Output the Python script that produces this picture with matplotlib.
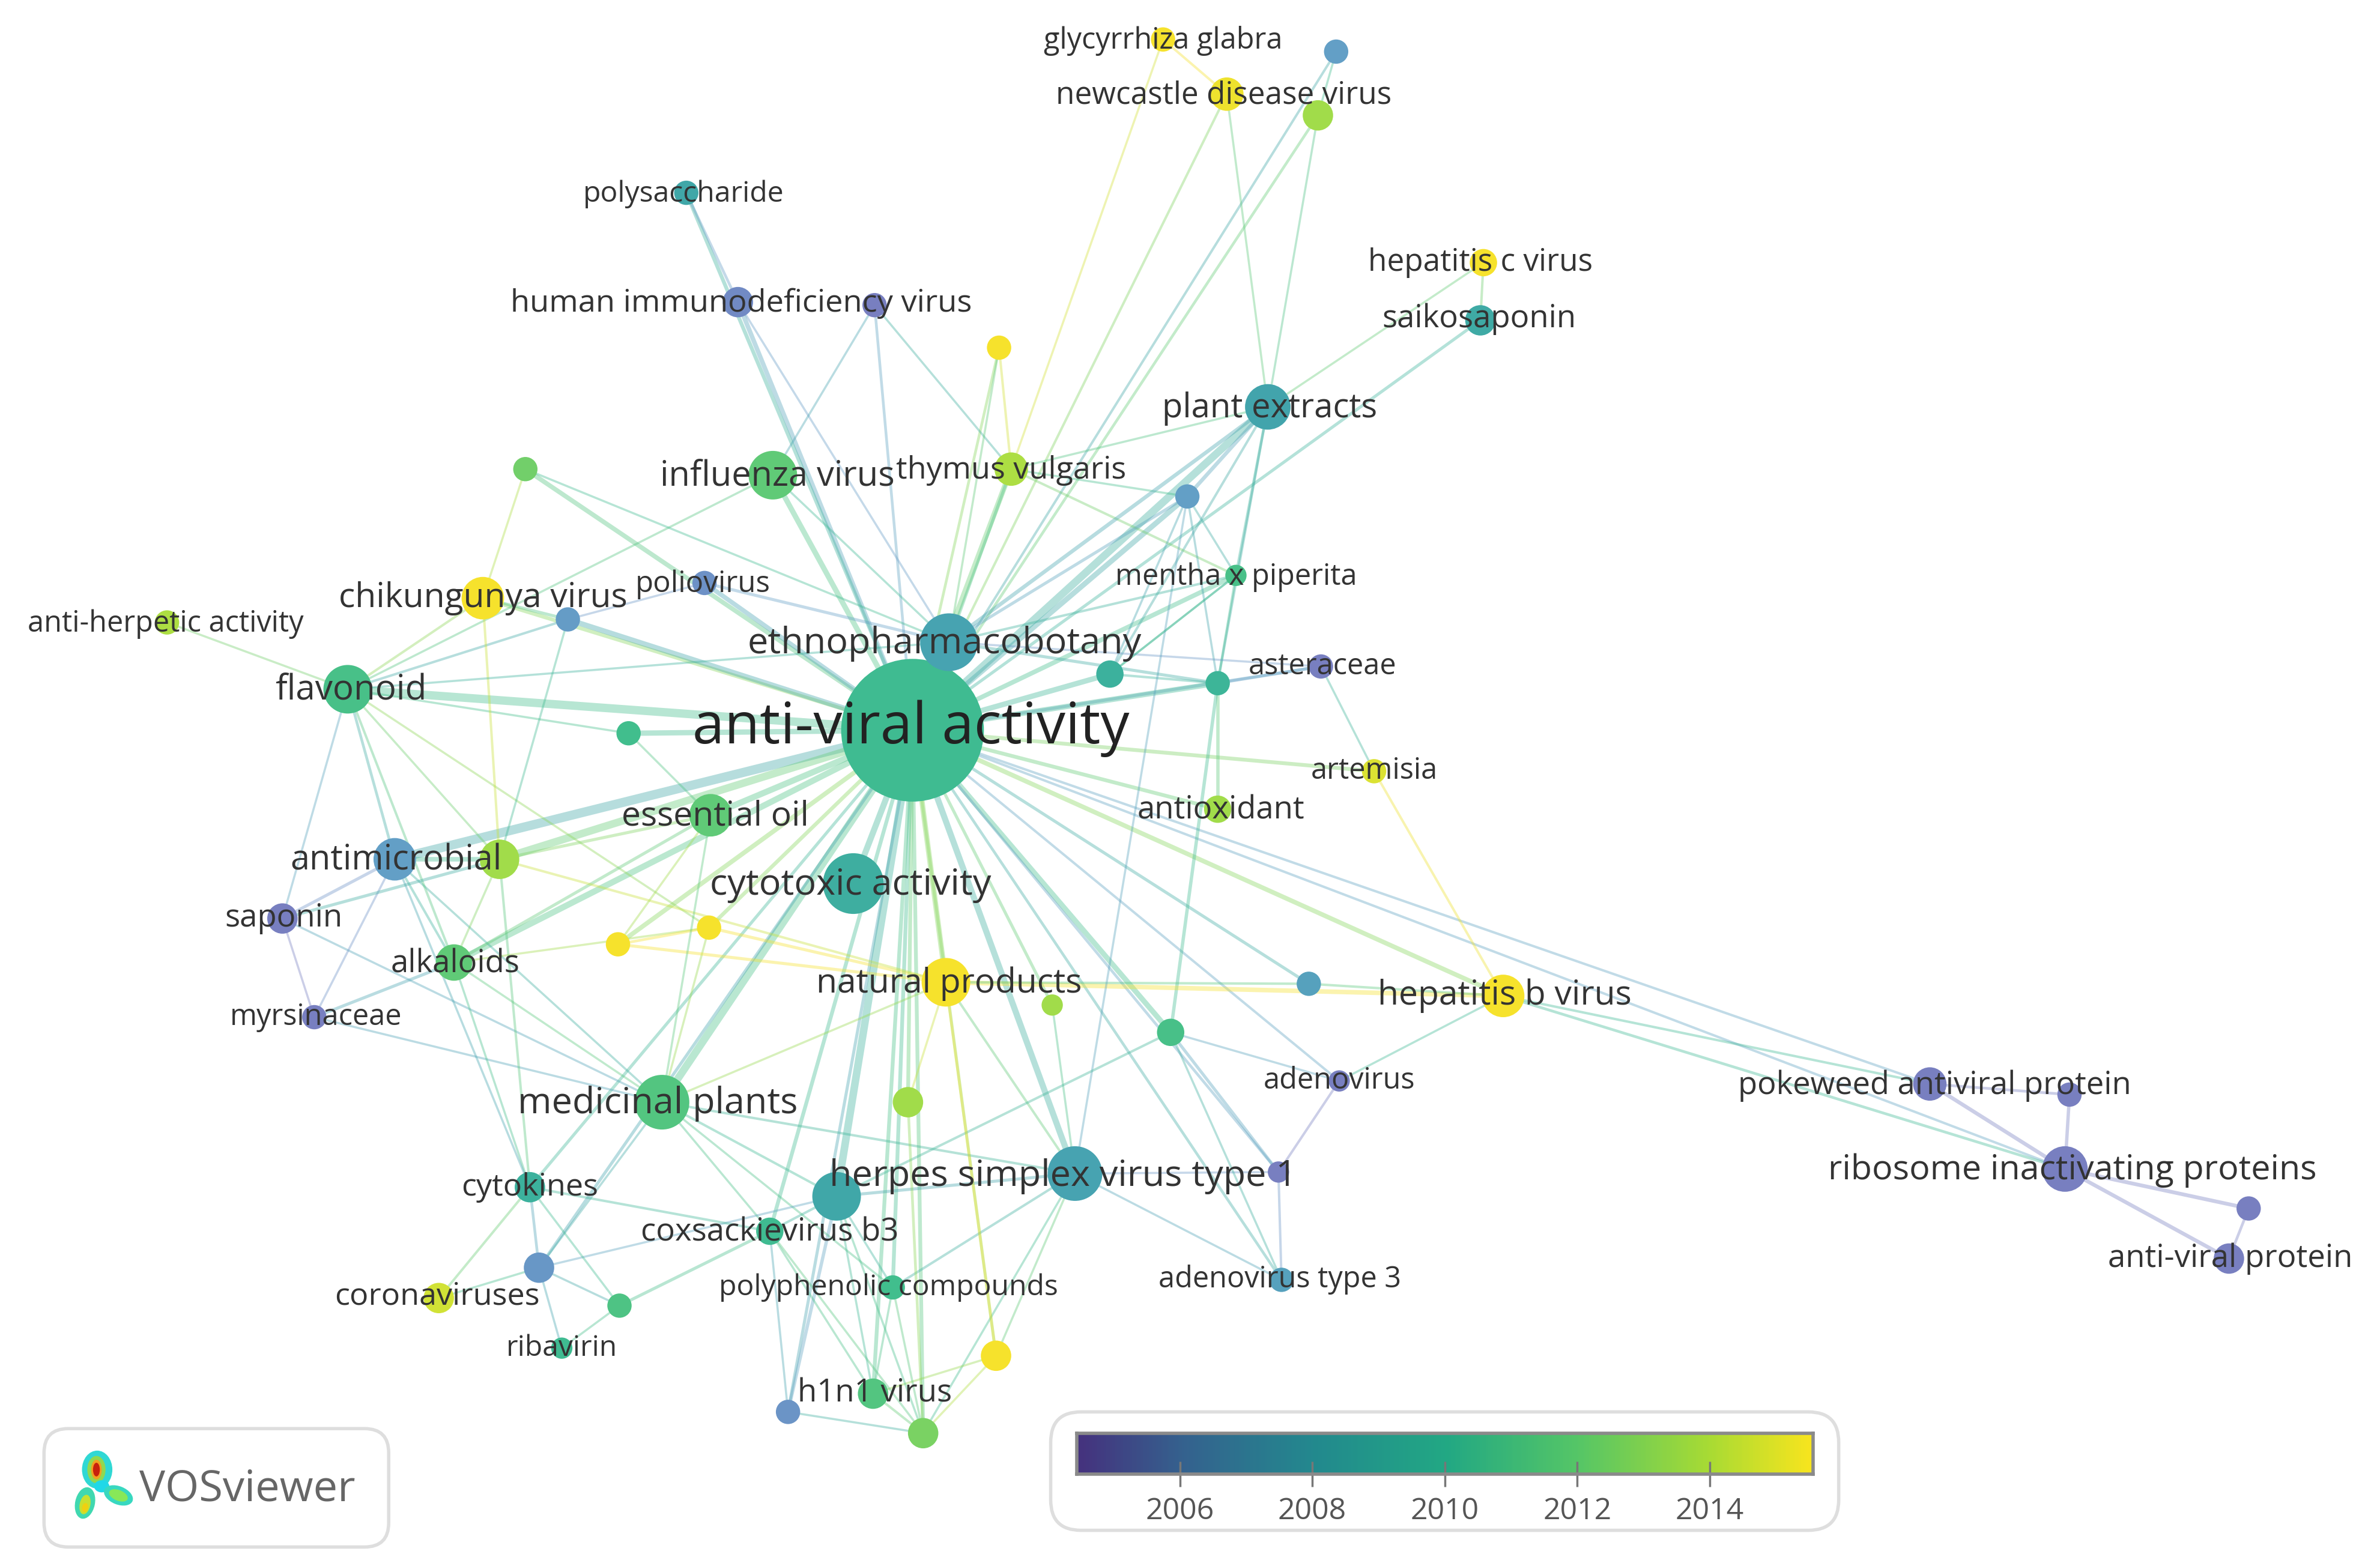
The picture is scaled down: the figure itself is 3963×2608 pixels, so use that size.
import numpy as np
import matplotlib
matplotlib.use("Agg")
import matplotlib.pyplot as plt
from matplotlib.patches import Circle, Ellipse, FancyBboxPatch
from matplotlib.colors import LinearSegmentedColormap

# nodes: picture coordinates, radius and average publication year
node_names = [
    "anti-viral activity", "ethnopharmacobotany", "cytotoxic activity", "herpes simplex virus type 1",
    "medicinal plants", "flavonoid", "essential oil", "antimicrobial", "natural products", "hepatitis b virus",
    "influenza virus", "chikungunya virus", "plant extracts", "thymus vulgaris", "ribosome inactivating proteins",
    "pokeweed antiviral protein", "anti-viral protein", "n_rip1", "n_rip2", "adenovirus", "adenovirus type 3",
    "n_adeno", "coxsackievirus b3", "n_cox", "cytokines", "coronaviruses", "n_cor1", "n_cor2", "ribavirin",
    "polyphenolic compounds", "h1n1 virus", "n_h1", "n_h2", "n_h3", "n_mid1", "n_mid2", "n_mid3", "n_mid4",
    "n_y1", "n_y2", "alkaloids", "n_anti", "saponin", "myrsinaceae", "n_left", "anti-herpetic activity",
    "n_top1", "poliovirus", "n_polio", "human immunodeficiency virus", "n_hiv", "polysaccharide", "n_top2",
    "glycyrrhiza glabra", "n_new1", "newcastle disease virus", "n_new2", "hepatitis c virus", "saikosaponin",
    "n_pl", "mentha x piperita", "asteraceae", "n_r1", "n_r2", "artemisia", "antioxidant",
]
node_x = [601, 625, 562, 708, 436, 229, 468, 260, 623, 990, 509, 318, 835, 666, 1360, 1271, 1468, 1481, 1363,
          882, 844, 842, 507, 551, 349, 289, 355, 408, 370, 588, 575, 519, 608, 656, 598, 771, 862, 693, 407,
          467, 299, 329, 186, 207, 414, 110, 346, 464, 374, 486, 576, 452, 658, 766, 880, 808, 868, 977, 975,
          782, 814, 870, 731, 802, 905, 802]
node_y = [481, 423, 582, 773, 726, 454, 537, 566, 647, 656, 313, 394, 268, 309, 770, 714, 829, 796, 721, 712,
          843, 772, 811, 788, 782, 855, 835, 860, 888, 848, 918, 930, 944, 893, 726, 680, 648, 662, 622, 611,
          634, 566, 605, 670, 483, 410, 309, 384, 408, 199, 201, 127, 229, 26, 34, 62, 76, 173, 211, 327, 379,
          439, 444, 450, 508, 533]
node_r = [47, 19, 20, 18, 18, 16, 14, 14, 16, 14, 16, 14, 15, 11, 15, 11, 10, 8, 8, 7, 8, 7, 9, 16, 10, 10, 10,
          8, 7, 8, 10, 8, 10, 10, 10, 9, 8, 7, 8, 8, 12, 13, 10, 8, 8, 8, 8, 8, 8, 10, 8, 8, 8, 8, 8, 11, 10,
          9, 10, 8, 7, 8, 9, 8, 8, 9]
node_year = [2010.5, 2008.5, 2009.5, 2008.5, 2011.5, 2011, 2012, 2007.5, 2015.5, 2015.5, 2012, 2015.5, 2008.7, 2014,
             2005, 2005, 2005, 2005, 2005, 2005, 2008, 2005, 2010.5, 2009, 2009.7, 2014.7, 2006.8, 2011.3, 2010.5,
             2010.7, 2011.5, 2006.5, 2012.7, 2015.5, 2013.7, 2011, 2008, 2013.7, 2015.5, 2015.5, 2012, 2013.7, 2005, 2005,
             2010.7, 2014, 2012.5, 2006.3, 2007.2, 2005.7, 2005, 2009, 2015.5, 2015.5, 2007.5, 2015.2, 2013.7, 2015.5,
             2009.2, 2007.5, 2011, 2005, 2009.7, 2010, 2014.9, 2013.7]

# labels
label_text = ["anti-viral activity", "ethnopharmacobotany", "cytotoxic activity", "herpes simplex virus type 1",
              "medicinal plants", "flavonoid", "essential oil", "antimicrobial", "natural products",
              "hepatitis b virus", "influenza virus", "chikungunya virus", "plant extracts", "thymus vulgaris",
              "ribosome inactivating proteins", "pokeweed antiviral protein", "anti-viral protein", "adenovirus",
              "adenovirus type 3", "coxsackievirus b3", "cytokines", "coronaviruses", "ribavirin",
              "polyphenolic compounds", "h1n1 virus", "alkaloids", "saponin", "myrsinaceae",
              "anti-herpetic activity", "poliovirus", "human immunodeficiency virus", "polysaccharide",
              "glycyrrhiza glabra", "newcastle disease virus", "hepatitis c virus", "saikosaponin",
              "mentha x piperita", "asteraceae", "artemisia", "antioxidant"]
label_x = [600, 622, 560, 700, 433, 231, 471, 261, 625, 991, 512, 318, 836, 666, 1365, 1274, 1469, 882, 843, 507,
           349, 288, 370, 585, 576, 300, 187, 208, 109, 463, 488, 450, 766, 806, 975, 974, 814, 871, 905, 804]
label_y = [480, 424, 583, 775, 727, 455, 538, 567, 648, 656, 314, 394, 269, 310, 771, 715, 829, 712, 843, 812,
           782, 854, 888, 848, 918, 635, 605, 670, 411, 385, 200, 128, 27, 63, 173, 210, 380, 439, 508, 534]
label_size = [69, 44, 44, 44, 44, 42, 41, 41.5, 41, 41, 41.5, 41, 40.5, 37.5, 41.3, 37.8, 38, 35, 35, 38, 37.5,
              37.5, 34.6, 34.7, 38, 38, 38, 35, 35, 35.5, 37.7, 34.7, 35, 37, 37, 38, 35, 35, 35, 38]

# links to the central node and their widths
hub_links = ["ethnopharmacobotany", "cytotoxic activity", "herpes simplex virus type 1", "medicinal plants",
             "flavonoid", "essential oil", "antimicrobial", "natural products", "hepatitis b virus",
             "influenza virus", "chikungunya virus", "plant extracts", "thymus vulgaris", "n_cox", "coxsackievirus b3",
             "cytokines", "n_cor1", "polyphenolic compounds", "h1n1 virus", "n_h1", "n_h2", "n_h3", "n_mid1",
             "n_mid2", "n_mid3", "n_mid4", "n_y1", "n_y2", "alkaloids", "n_anti", "n_left", "n_top1", "poliovirus",
             "n_polio", "human immunodeficiency virus", "n_hiv", "polysaccharide", "n_top2", "n_new1",
             "newcastle disease virus", "n_new2", "saikosaponin", "n_pl", "mentha x piperita", "asteraceae",
             "n_r1", "n_r2", "artemisia", "antioxidant", "adenovirus type 3", "n_adeno", "adenovirus",
             "pokeweed antiviral protein", "ribosome inactivating proteins"]
hub_width = [5, 4, 4, 5, 5.5, 4, 6, 3.5, 3, 3.5, 2.5, 5, 3.5, 5, 2.5, 2, 2, 2.5, 2.5, 2, 2.5, 2, 2.5, 3.5, 2, 2,
             3, 2.5, 4, 5, 3.5, 3, 3, 3.5, 3, 1.8, 2.5, 1.8, 1.6, 1.6, 1.8, 2, 3.5, 3, 2, 3.5, 3.5, 2.5, 2.5, 1.8,
             1.8, 1.6, 1.6, 1.6]

# the other links, with their widths
other_links = [
    ("hepatitis c virus", "saikosaponin", 1.6), ("hepatitis c virus", "plant extracts", 1.4),
    ("glycyrrhiza glabra", "newcastle disease virus", 1.6), ("glycyrrhiza glabra", "thymus vulgaris", 1.4),
    ("newcastle disease virus", "plant extracts", 1.4), ("n_new2", "plant extracts", 1.4),
    ("n_new1", "n_new2", 1.4), ("plant extracts", "thymus vulgaris", 1.4), ("plant extracts", "n_pl", 2.5),
    ("plant extracts", "mentha x piperita", 1.8), ("plant extracts", "n_r1", 1.6), ("plant extracts", "n_r2", 1.6),
    ("thymus vulgaris", "n_pl", 1.4), ("thymus vulgaris", "mentha x piperita", 1.6), ("thymus vulgaris", "n_top2", 1.6),
    ("thymus vulgaris", "n_hiv", 1.4),
    ("n_pl", "mentha x piperita", 1.4), ("n_pl", "n_r1", 1.4), ("n_pl", "n_r2", 1.4),
    ("mentha x piperita", "n_r1", 1.4), ("mentha x piperita", "n_r2", 1.6),
    ("n_r2", "antioxidant", 2.2), ("n_r2", "n_mid2", 2.2), ("n_r2", "asteraceae", 2), ("n_r1", "n_r2", 1.6),
    ("asteraceae", "ethnopharmacobotany", 1.4), ("asteraceae", "artemisia", 1.4), ("artemisia", "hepatitis b virus", 1.6),
    ("natural products", "hepatitis b virus", 3), ("n_mid3", "hepatitis b virus", 1.6), ("n_mid3", "natural products", 1.6),
    ("hepatitis b virus", "pokeweed antiviral protein", 1.6), ("hepatitis b virus", "ribosome inactivating proteins", 1.8),
    ("hepatitis b virus", "adenovirus", 1.4),
    ("pokeweed antiviral protein", "ribosome inactivating proteins", 2.5), ("pokeweed antiviral protein", "n_rip2", 1.8),
    ("n_rip2", "ribosome inactivating proteins", 2.2), ("ribosome inactivating proteins", "n_rip1", 2.5),
    ("ribosome inactivating proteins", "anti-viral protein", 2.5), ("n_rip1", "anti-viral protein", 1.8),
    ("adenovirus", "n_adeno", 1.6), ("adenovirus", "n_mid2", 1.4), ("n_adeno", "n_mid2", 2),
    ("n_adeno", "adenovirus type 3", 1.6), ("n_adeno", "herpes simplex virus type 1", 1.4),
    ("adenovirus type 3", "herpes simplex virus type 1", 1.4), ("adenovirus type 3", "n_mid2", 1.4),
    ("herpes simplex virus type 1", "natural products", 1.6), ("herpes simplex virus type 1", "n_pl", 1.4),
    ("herpes simplex virus type 1", "n_mid4", 1.4), ("herpes simplex virus type 1", "medicinal plants", 1.6),
    ("herpes simplex virus type 1", "n_cox", 2), ("herpes simplex virus type 1", "polyphenolic compounds", 1.6),
    ("herpes simplex virus type 1", "n_h2", 1.4), ("herpes simplex virus type 1", "n_h3", 1.4),
    ("n_mid2", "n_cox", 1.6), ("n_h3", "natural products", 1.8),
    ("n_h3", "h1n1 virus", 1.4), ("n_h3", "n_h2", 1.4), ("n_mid1", "n_h2", 1.8), ("n_mid1", "natural products", 1.4),
    ("n_h1", "n_cox", 2.2), ("n_h1", "coxsackievirus b3", 1.4), ("n_h1", "n_h2", 1.4), ("n_h2", "coxsackievirus b3", 1.4),
    ("n_h2", "polyphenolic compounds", 1.4), ("n_h2", "n_cox", 1.4), ("h1n1 virus", "coxsackievirus b3", 1.4),
    ("h1n1 virus", "n_cox", 1.4), ("h1n1 virus", "polyphenolic compounds", 1.4), ("h1n1 virus", "n_h2", 1.6),
    ("polyphenolic compounds", "n_cox", 1.4), ("coxsackievirus b3", "n_cox", 1.6),
    ("medicinal plants", "n_cox", 1.6), ("medicinal plants", "coxsackievirus b3", 1.4),
    ("medicinal plants", "polyphenolic compounds", 1.4), ("medicinal plants", "natural products", 1.4),
    ("medicinal plants", "n_cor1", 1.4), ("medicinal plants", "n_y2", 1.4),
    ("medicinal plants", "alkaloids", 1.4), ("medicinal plants", "saponin", 1.4), ("medicinal plants", "myrsinaceae", 1.4),
    ("medicinal plants", "antimicrobial", 1.4), ("n_cor1", "n_cox", 1.4), ("n_cor1", "coronaviruses", 1.4),
    ("n_cor1", "cytokines", 1.8), ("n_cor1", "n_cor2", 1.4), ("n_cor1", "ribavirin", 1.4), ("cytokines", "coronaviruses", 1.6),
    ("cytokines", "n_cor2", 1.4), ("cytokines", "coxsackievirus b3", 1.6), ("cytokines", "alkaloids", 1.4),
    ("cytokines", "n_anti", 1.6), ("cytokines", "antimicrobial", 1.4), ("n_cor2", "coxsackievirus b3", 2),
    ("n_cor2", "ribavirin", 1.4), ("flavonoid", "saponin", 1.4), ("flavonoid", "antimicrobial", 1.8),
    ("flavonoid", "alkaloids", 1.6), ("flavonoid", "n_anti", 1.4), ("flavonoid", "n_y2", 1.4), ("flavonoid", "n_left", 1.4),
    ("flavonoid", "n_polio", 1.6), ("flavonoid", "chikungunya virus", 1.6), ("flavonoid", "influenza virus", 1.4),
    ("flavonoid", "anti-herpetic activity", 1.4), ("antimicrobial", "n_anti", 3), ("antimicrobial", "saponin", 2),
    ("antimicrobial", "myrsinaceae", 1.4), ("antimicrobial", "alkaloids", 1.6), ("saponin", "n_anti", 2),
    ("saponin", "myrsinaceae", 1.4), ("myrsinaceae", "alkaloids", 2), ("alkaloids", "n_anti", 1.4), ("alkaloids", "n_y2", 1.4),
    ("alkaloids", "essential oil", 2), ("n_y1", "n_y2", 1.8), ("n_y1", "natural products", 2), ("n_y2", "natural products", 2),
    ("n_anti", "natural products", 1.6), ("n_anti", "essential oil", 2), ("n_anti", "chikungunya virus", 1.6),
    ("n_anti", "n_polio", 1.4), ("essential oil", "medicinal plants", 1.4), ("essential oil", "n_y1", 1.4),
    ("chikungunya virus", "n_polio", 2), ("chikungunya virus", "n_top1", 1.4), ("n_polio", "poliovirus", 1.4),
    ("poliovirus", "ethnopharmacobotany", 2), ("n_top1", "ethnopharmacobotany", 1.4), ("n_left", "essential oil", 1.4),
    ("polysaccharide", "human immunodeficiency virus", 1.8), ("human immunodeficiency virus", "ethnopharmacobotany", 1.4),
    ("n_hiv", "influenza virus", 1.4), ("influenza virus", "ethnopharmacobotany", 1.4),
    ("n_top2", "ethnopharmacobotany", 1.4),
    ("ethnopharmacobotany", "plant extracts", 2.5), ("ethnopharmacobotany", "n_pl", 2), ("ethnopharmacobotany", "n_r2", 2),
    ("ethnopharmacobotany", "mentha x piperita", 1.6), ("ethnopharmacobotany", "thymus vulgaris", 2),
    ("ethnopharmacobotany", "flavonoid", 1.4), ("n_r1", "mentha x piperita", 1.4),
]

scale = 3963 / 1564
bar_colors = [(0, "#45327e"), (0.14, "#35618e"), (0.32, "#23898e"), (0.5, "#22a884"),
              (0.68, "#55c667"), (0.86, "#a8db34"), (1, "#f8e51e")]
node_colors = [(0, "#7c78bd"), (0.14, "#6f8ec6"), (0.28, "#62a0c6"), (0.38, "#42a3ad"), (0.48, "#3cb29c"),
               (0.56, "#40bd8e"), (0.68, "#5fca78"), (0.80, "#90d852"), (0.90, "#bfe23a"), (0.98, "#f6e22c"),
               (1, "#f6e22c")]
bar_cmap = LinearSegmentedColormap.from_list("vos", bar_colors)
node_cmap = LinearSegmentedColormap.from_list("vos_node", node_colors)
y_min = 2004.44
y_max = 2015.56


def year_color(y):
    return node_cmap((y - y_min) / (y_max - y_min))


plt.rcParams['font.family'] = ['Open Sans', 'DejaVu Sans']
fig = plt.figure(figsize=(39.63, 26.08), dpi=100)
ax = fig.add_axes([0, 0, 1, 1])
x_lim = 1567.5
y_lim = 1031.5
ax.set_xlim(0, x_lim)
ax.set_ylim(y_lim, 0)
ax.axis('off')

pos = {n: (x, y, yr) for n, x, y, yr in zip(node_names, node_x, node_y, node_year)}


def draw_link(a, b, w):
    xa, ya, ca = pos[a]
    xb, yb, cb = pos[b]
    ax.plot([xa, xb], [ya, yb], color=year_color((ca + cb) / 2), alpha=0.38, lw=w * scale * 0.72,
            solid_capstyle='butt', zorder=1)


for name, w in zip(hub_links, hub_width):
    draw_link("anti-viral activity", name, w)
for a, b, w in other_links:
    draw_link(a, b, w)

for x, y, r, yr in zip(node_x, node_y, node_r, node_year):
    ax.add_patch(Circle((x, y), r, facecolor=year_color(yr), edgecolor='none', zorder=2))

for s, x, y, fs in zip(label_text, label_x, label_y, label_size):
    col = '#222222' if s == "anti-viral activity" else '#333333'
    ax.text(x, y, s, ha='center', va='center', fontsize=fs, color=col, zorder=3)

# VOSviewer box
ax.add_patch(FancyBboxPatch((29, 941), 227, 78, boxstyle="round,pad=0,rounding_size=16", linewidth=4,
                            edgecolor='#dedede', facecolor='white', zorder=4))
for cx, cy, w, h, ang, col in [
    (64, 968, 20, 25, 0, '#30d8d4'), (63.5, 968, 12, 18, 0, '#90d850'), (63.5, 968, 7, 13, 0, '#f0a020'),
    (63.5, 968, 4.5, 9, 0, '#c8200c'), (67, 979, 10, 8, 0, '#20d8e8'), (56, 990, 13, 21, 12, '#40d8b0'),
    (56, 991, 7, 13, 12, '#c8e030'), (56, 993, 4, 6, 12, '#f0d010'), (78, 985, 20, 12, 22, '#38d8c0'),
    (78, 985, 13, 7, 22, '#88e858'),
]:
    ax.add_patch(Ellipse((cx, cy), w, h, angle=ang, facecolor=col, edgecolor='none', zorder=5))
ax.text(163, 981, "VOSviewer", ha='center', va='center', fontsize=52, color='#666666', zorder=5)

# colour bar box
ax.add_patch(FancyBboxPatch((692, 930), 519, 78, boxstyle="round,pad=0,rounding_size=20", linewidth=4,
                            edgecolor='#dedede', facecolor='white', zorder=4))
cax = fig.add_axes([709 / x_lim, 1 - 971 / y_lim, (1194 - 709) / x_lim, 27 / y_lim], zorder=6)
cax.imshow(np.linspace(y_min, y_max, 400).reshape(1, -1), aspect='auto', cmap=bar_cmap,
           extent=[y_min, y_max, 0, 1], vmin=y_min, vmax=y_max)
cax.set_yticks([])
cax.set_xticks([2006, 2008, 2010, 2012, 2014])
cax.tick_params(axis='x', direction='inout', length=30, width=2.5, color='#777777', labelsize=36,
                labelcolor='#555555', pad=12)
for side in cax.spines.values():
    side.set_color('#8a8a8a')
    side.set_linewidth(4)

fig.savefig("out.png", dpi=100, facecolor='white')
